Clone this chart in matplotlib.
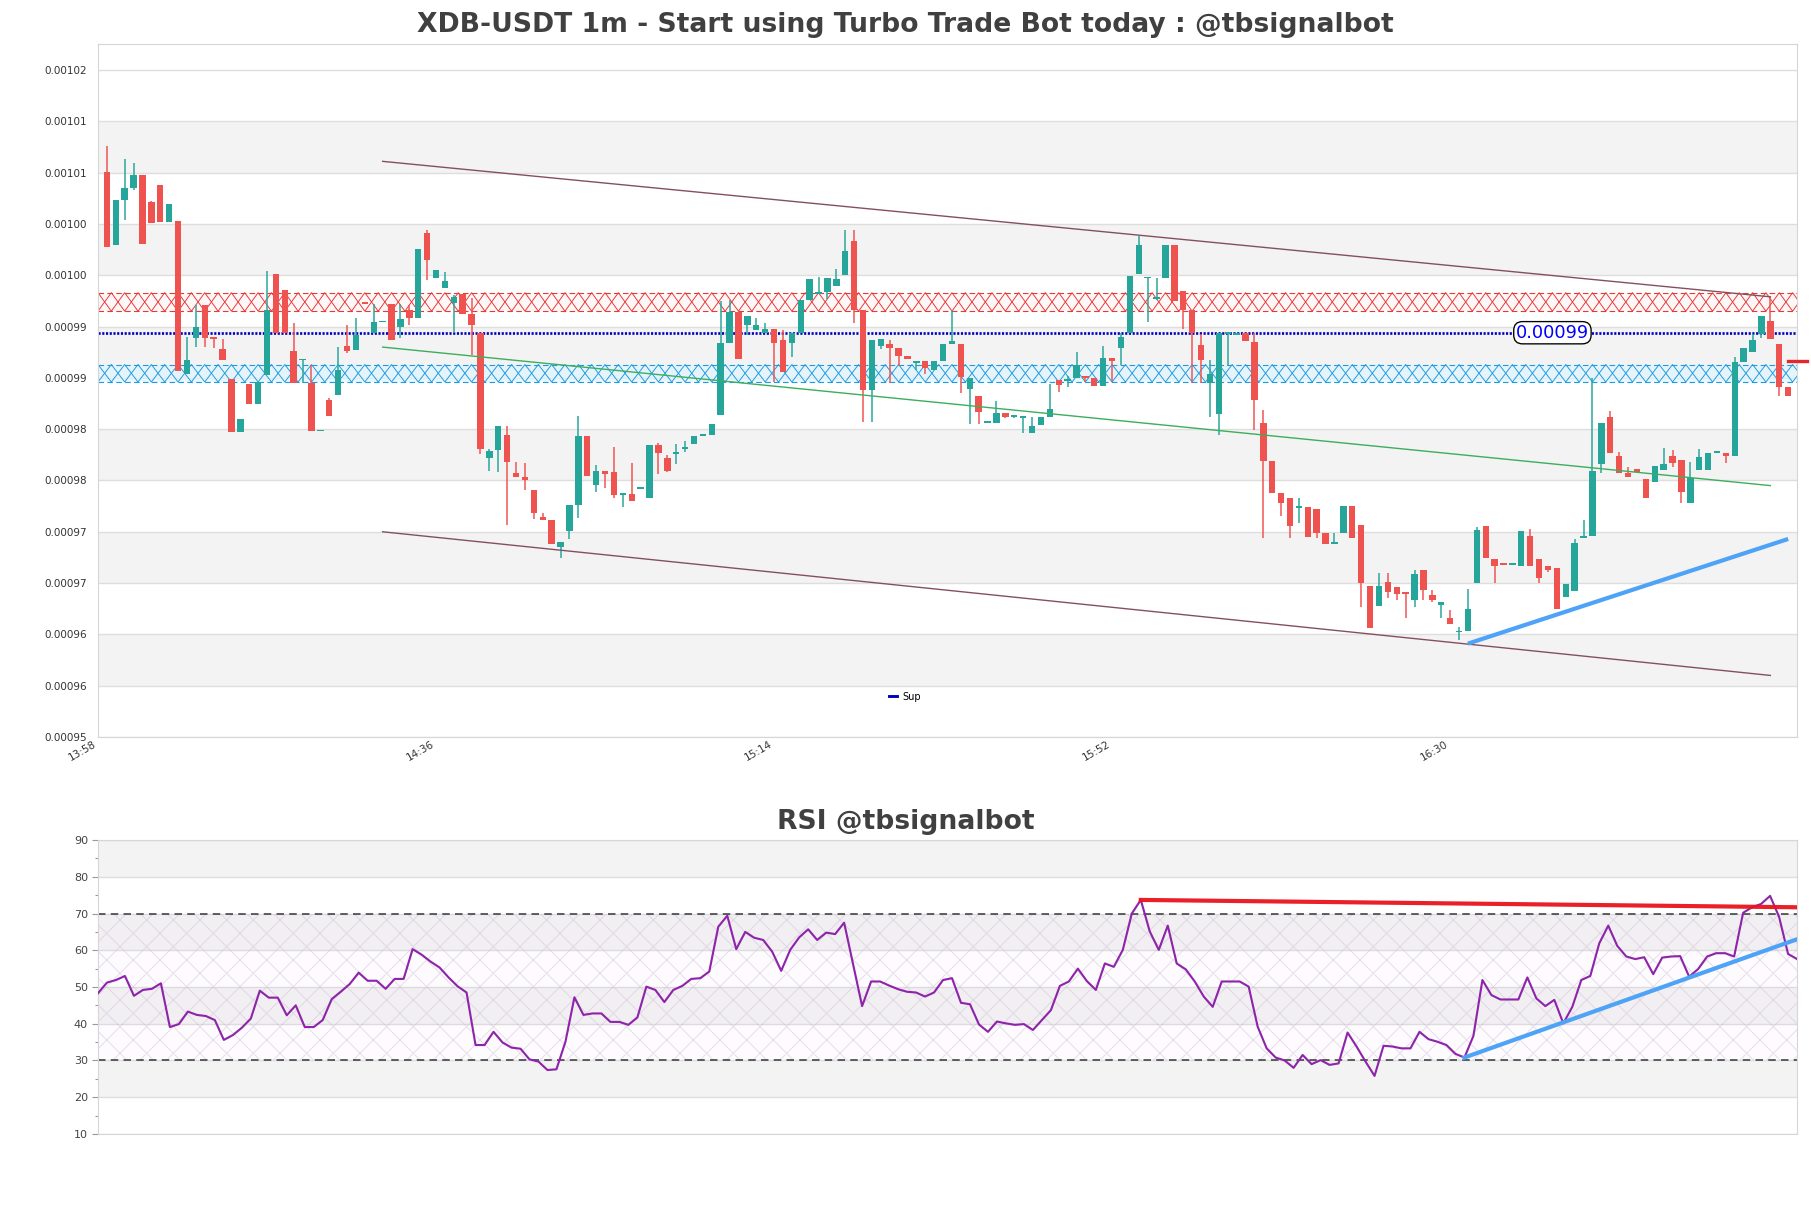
import numpy as np
import matplotlib
matplotlib.use('Agg')
import matplotlib.pyplot as plt

# prices are written in units of 1e-5 (99.0 -> 0.00099)
opens = [100.51, 99.79, 100.23, 100.35, 100.48, 100.21, 100.38, 100.02, 100.03, 98.54,
         98.89, 99.21, 98.89, 98.78, 98.49, 97.97, 98.44, 98.25, 98.53, 99.51,
         99.36, 98.76, 98.67, 98.45, 97.98, 98.28, 98.33, 98.81, 98.77, 99.23,
         98.94, 99.04, 99.22, 99.00, 99.16, 99.08, 99.91, 99.47, 99.38, 99.23,
         99.32, 99.12, 98.94, 97.72, 97.80, 97.94, 97.57, 97.53, 97.41, 97.14,
         97.11, 96.85, 97.01, 97.26, 97.93, 97.46, 97.59, 97.58, 97.36, 97.37,
         97.42, 97.33, 97.85, 97.72, 97.76, 97.81, 97.86, 97.93, 97.94, 98.14,
         98.84, 99.14, 99.02, 98.97, 98.94, 98.98, 98.87, 98.84, 98.94, 99.26,
         99.32, 99.34, 99.40, 99.50, 99.83, 99.16, 98.38, 98.81, 98.83, 98.79,
         98.71, 98.64, 98.66, 98.58, 98.66, 98.83, 98.83, 98.39, 98.32, 98.06,
         98.06, 98.16, 98.12, 98.11, 97.96, 98.04, 98.12, 98.48, 98.47, 98.50,
         98.51, 98.50, 98.42, 98.69, 98.79, 98.94, 99.51, 99.47, 99.27, 99.47,
         99.79, 99.35, 99.16, 98.82, 98.45, 98.15, 98.93, 98.92, 98.94, 98.85,
         98.06, 97.69, 97.38, 97.33, 97.23, 97.24, 97.22, 96.99, 96.88, 96.99,
         97.25, 97.07, 96.47, 96.28, 96.51, 96.46, 96.41, 96.34, 96.63, 96.38,
         96.29, 96.16, 96.02, 96.03, 96.50, 97.06, 96.73, 96.70, 96.68, 96.67,
         96.96, 96.73, 96.67, 96.65, 96.36, 96.42, 96.94, 96.96, 97.66, 98.12,
         97.74, 97.57, 97.61, 97.51, 97.49, 97.60, 97.74, 97.70, 97.28, 97.60,
         97.60, 97.77, 97.77, 97.74, 98.65, 98.75, 98.93, 99.05, 98.83, 98.41]
highs = [100.76, 100.23, 100.63, 100.59, 100.48, 100.22, 100.38, 100.19, 100.03, 98.90,
         99.21, 99.21, 98.89, 98.88, 98.49, 98.10, 98.44, 98.46, 99.54, 99.51,
         99.36, 99.03, 98.67, 98.63, 97.98, 98.30, 98.80, 99.02, 99.08, 99.23,
         99.22, 99.04, 99.22, 99.22, 99.21, 99.76, 99.94, 99.55, 99.53, 99.31,
         99.32, 99.28, 98.94, 97.81, 98.03, 98.03, 97.68, 97.67, 97.41, 97.18,
         97.11, 96.90, 97.26, 98.13, 97.93, 97.65, 97.59, 97.83, 97.38, 97.67,
         97.42, 97.85, 97.87, 97.75, 97.86, 97.88, 97.93, 97.95, 98.05, 99.25,
         99.26, 99.14, 99.10, 99.08, 99.03, 98.98, 98.97, 98.94, 99.26, 99.46,
         99.48, 99.47, 99.56, 99.94, 99.94, 99.16, 98.87, 98.88, 98.87, 98.79,
         98.71, 98.66, 98.66, 98.66, 98.83, 99.16, 98.83, 98.50, 98.32, 98.06,
         98.27, 98.16, 98.13, 98.12, 98.12, 98.12, 98.44, 98.48, 98.52, 98.75,
         98.51, 98.50, 98.81, 98.69, 98.94, 99.49, 99.88, 99.47, 99.47, 99.79,
         99.79, 99.35, 99.16, 98.93, 98.67, 98.94, 98.93, 98.94, 98.94, 98.94,
         98.19, 97.69, 97.38, 97.33, 97.33, 97.24, 97.22, 96.99, 96.99, 97.25,
         97.25, 97.07, 96.47, 96.60, 96.60, 96.46, 96.41, 96.63, 96.63, 96.43,
         96.32, 96.24, 96.07, 96.44, 97.05, 97.06, 96.73, 96.70, 96.68, 97.01,
         97.03, 96.73, 96.67, 96.65, 96.49, 96.93, 97.11, 98.50, 98.06, 98.18,
         97.78, 97.63, 97.61, 97.51, 97.64, 97.82, 97.80, 97.70, 97.68, 97.81,
         97.77, 97.77, 97.77, 98.70, 98.79, 98.93, 99.10, 99.29, 98.83, 98.41]
lows = [99.78, 99.79, 100.04, 100.33, 99.80, 100.01, 100.02, 100.02, 98.57, 98.54,
        98.80, 98.80, 98.79, 98.67, 97.97, 97.97, 98.25, 98.25, 98.53, 98.94,
        98.94, 98.45, 98.45, 97.98, 97.98, 98.13, 98.33, 98.74, 98.77, 99.22,
        98.94, 99.04, 98.87, 98.89, 99.02, 99.08, 99.45, 99.47, 99.38, 98.94,
        99.12, 98.72, 97.76, 97.59, 97.58, 97.07, 97.53, 97.41, 97.12, 97.11,
        96.88, 96.74, 96.93, 97.13, 97.54, 97.39, 97.43, 97.33, 97.24, 97.30,
        97.42, 97.33, 97.56, 97.58, 97.66, 97.78, 97.86, 97.93, 97.94, 98.14,
        98.84, 98.68, 98.92, 98.97, 98.94, 98.46, 98.56, 98.70, 98.94, 99.26,
        99.32, 99.27, 99.40, 99.50, 99.03, 98.07, 98.07, 98.78, 98.45, 98.62,
        98.68, 98.58, 98.54, 98.58, 98.66, 98.83, 98.35, 98.05, 98.05, 98.06,
        98.06, 98.11, 98.11, 97.96, 97.96, 98.04, 98.12, 98.36, 98.41, 98.50,
        98.46, 98.42, 98.42, 98.46, 98.63, 98.94, 99.51, 99.04, 99.26, 99.47,
        99.25, 98.98, 98.45, 98.45, 98.12, 97.94, 98.62, 98.92, 98.86, 97.99,
        96.94, 97.38, 97.15, 96.94, 97.09, 96.95, 96.94, 96.88, 96.88, 96.99,
        96.94, 96.27, 96.06, 96.28, 96.35, 96.34, 96.16, 96.27, 96.34, 96.32,
        96.16, 96.10, 95.95, 96.03, 96.50, 96.74, 96.50, 96.68, 96.68, 96.67,
        96.67, 96.50, 96.61, 96.25, 96.36, 96.42, 96.94, 96.96, 97.57, 97.77,
        97.57, 97.53, 97.58, 97.33, 97.49, 97.60, 97.63, 97.28, 97.28, 97.60,
        97.60, 97.77, 97.67, 97.74, 98.65, 98.75, 98.89, 98.88, 98.32, 98.32]
closes = [99.78, 100.23, 100.35, 100.48, 99.80, 100.01, 100.02, 100.19, 98.57, 98.67,
          99.00, 98.89, 98.88, 98.67, 97.97, 98.10, 98.25, 98.46, 99.16, 98.94,
          98.94, 98.45, 98.67, 97.98, 97.98, 98.13, 98.58, 98.76, 98.92, 99.22,
          99.04, 99.04, 98.87, 99.07, 99.08, 99.76, 99.65, 99.55, 99.44, 99.29,
          99.12, 99.02, 97.81, 97.79, 98.03, 97.68, 97.53, 97.50, 97.18, 97.11,
          96.88, 96.90, 97.26, 97.93, 97.54, 97.59, 97.56, 97.36, 97.38, 97.30,
          97.42, 97.85, 97.77, 97.59, 97.78, 97.83, 97.93, 97.95, 98.05, 98.84,
          99.14, 98.68, 99.10, 99.02, 98.98, 98.84, 98.56, 98.94, 99.26, 99.46,
          99.33, 99.47, 99.46, 99.74, 99.16, 98.38, 98.87, 98.88, 98.79, 98.71,
          98.68, 98.66, 98.60, 98.66, 98.83, 98.86, 98.51, 98.50, 98.17, 98.06,
          98.16, 98.12, 98.12, 98.12, 98.03, 98.12, 98.20, 98.43, 98.48, 98.63,
          98.50, 98.42, 98.69, 98.66, 98.90, 99.49, 99.79, 99.47, 99.27, 99.79,
          99.25, 99.16, 98.94, 98.67, 98.54, 98.94, 98.93, 98.93, 98.86, 98.28,
          97.69, 97.38, 97.28, 97.06, 97.25, 96.95, 96.99, 96.88, 96.90, 97.25,
          96.94, 96.50, 96.06, 96.47, 96.41, 96.39, 96.39, 96.59, 96.43, 96.34,
          96.32, 96.10, 96.03, 96.25, 97.02, 96.74, 96.67, 96.68, 96.68, 97.01,
          96.67, 96.55, 96.63, 96.25, 96.49, 96.89, 96.95, 97.59, 98.06, 97.77,
          97.57, 97.53, 97.58, 97.33, 97.64, 97.66, 97.67, 97.39, 97.52, 97.73,
          97.77, 97.77, 97.74, 98.65, 98.79, 98.87, 99.10, 98.88, 98.41, 98.32]

rsi = [48.3, 51.2, 51.9, 53.0, 47.6, 49.2, 49.5, 51.0, 39.1, 39.9,
       43.3, 42.4, 42.1, 41.0, 35.6, 36.9, 38.9, 41.4, 49.0, 47.1,
       47.1, 42.3, 45.0, 39.1, 39.1, 41.0, 46.7, 48.7, 50.8, 53.9,
       51.7, 51.7, 49.5, 52.2, 52.2, 60.3, 58.8, 56.9, 55.3, 52.6,
       50.2, 48.5, 34.2, 34.2, 37.8, 34.9, 33.5, 33.2, 30.3, 29.7,
       27.4, 27.6, 35.1, 47.2, 42.4, 42.8, 42.8, 40.5, 40.5, 39.7,
       41.7, 50.1, 49.2, 45.9, 49.2, 50.3, 52.2, 52.4, 54.2, 66.4,
       69.4, 60.3, 65.0, 63.4, 62.8, 59.6, 54.4, 60.1, 63.5, 65.7,
       62.8, 64.8, 64.4, 67.5, 56.2, 44.8, 51.5, 51.5, 50.4, 49.4,
       48.7, 48.5, 47.4, 48.5, 51.9, 52.4, 45.7, 45.3, 39.8, 37.8,
       40.6, 40.1, 39.7, 39.9, 38.3, 41.0, 43.7, 50.3, 51.5, 55.0,
       51.6, 49.2, 56.4, 55.5, 60.1, 70.0, 73.7, 65.1, 60.1, 66.7,
       56.4, 54.8, 51.5, 47.4, 44.6, 51.5, 51.5, 51.5, 50.1, 39.2,
       33.3, 30.8, 30.0, 28.0, 31.5, 29.0, 30.1, 28.8, 29.2, 37.6,
       33.8, 29.7, 25.8, 34.0, 33.8, 33.3, 33.3, 37.8, 35.8, 35.1,
       34.2, 31.8, 30.8, 36.7, 51.9, 47.8, 46.6, 46.6, 46.6, 52.6,
       46.9, 44.8, 46.5, 40.1, 44.6, 51.9, 53.0, 61.9, 66.7, 61.2,
       58.3, 57.6, 58.1, 53.5, 58.0, 58.3, 58.4, 52.8, 54.9, 58.3,
       59.2, 59.2, 58.3, 70.2, 71.7, 72.6, 74.8, 69.1, 59.0, 57.6]

time_ticks = [0, 38, 76, 114, 152]
time_labels = ['13:58', '14:36', '15:14', '15:52', '16:30']
price_ticks = [95.0, 95.5, 96.0, 96.5, 97.0, 97.5, 98.0, 98.5, 99.0, 99.5, 100.0, 100.5, 101.0, 101.5]
price_labels = ['0.00095', '0.00096', '0.00096', '0.00097', '0.00097', '0.00098', '0.00098',
                '0.00099', '0.00099', '0.00100', '0.00100', '0.00101', '0.00101', '0.00102']

resist_zone = (99.15, 99.33)
support_zone = (98.46, 98.63)
sup_level = 98.94
channel_x = [32, 188]
channel_top = [100.61, 99.29]
channel_bottom = [97.00, 95.60]
channel_mid = [98.80, 97.45]
trend_x = [154, 190]
trend_y = [95.91, 96.93]
last_x = [190, 192.1]
last_y = [98.66, 98.66]

rsi_res_x = [116, 189]
rsi_res_y = [73.7, 71.7]
rsi_sup_x = [152, 189]
rsi_sup_y = [30.8, 63.0]

S = 1e-5
GREEN = '#26a69a'
RED = '#ef5350'
BAND = '#f3f3f3'
GRID = '#dedede'
SPINE = '#d6d6d6'

plt.rcParams['hatch.linewidth'] = 0.8
plt.rcParams['axes.linewidth'] = 1.0

fig = plt.figure(figsize=(1811 / 80, 1208 / 80), dpi=80)
ax = fig.add_axes([0.0541, 0.3899, 0.9382, 0.5737])
ax2 = fig.add_axes([0.0541, 0.0613, 0.9382, 0.2433])

o = np.array(opens) * S
h = np.array(highs) * S
l = np.array(lows) * S
c = np.array(closes) * S
x = np.arange(1, len(o) + 1)
XMAX = 191


def cross_band(ax, lo, hi, color, face, step=1.5):
    # a row of X marks filling the zone, with dashed borders
    ax.axhspan(lo, hi, color=face, lw=0, zorder=1)
    xs = np.arange(0, XMAX + step, step)
    even = np.arange(len(xs)) % 2 == 0
    ax.plot(xs, np.where(even, hi, lo), color=color, lw=0.85, zorder=1.2)
    ax.plot(xs, np.where(even, lo, hi), color=color, lw=0.85, zorder=1.2)
    for yy in (lo, hi):
        ax.axhline(yy, color=color, lw=1.0, ls=(0, (5, 3)), zorder=1.2)


# alternating background bands
pt = np.array(price_ticks) * S
for k in range(1, len(pt) - 1, 2):
    ax.axhspan(pt[k], pt[k + 1], color=BAND, zorder=0, lw=0)
ax.grid(axis='y', color=GRID, lw=1.25, zorder=0.5)
ax.set_axisbelow(True)

# zones
cross_band(ax, resist_zone[0] * S, resist_zone[1] * S, '#e53935', (1, 0.95, 0.95, 0.6))
cross_band(ax, support_zone[0] * S, support_zone[1] * S, '#1e9be0', (0.88, 0.96, 1, 0.7))
ax.axhline(sup_level * S, color='#0000c0', ls=(0, (0.8, 0.6)), lw=2.4, zorder=2)
ax.plot([], [], color='#0000bb', lw=2.6, label='Sup')

# candles
up = c >= o
colors = np.where(up, GREEN, RED)
ax.vlines(x, l, h, colors=colors, lw=1.35, zorder=3)
body_lo = np.minimum(o, c)
body_h = np.maximum(np.abs(c - o), 0.015 * S)
ax.bar(x, body_h, bottom=body_lo, width=0.72, color=colors, lw=0, zorder=4)

# channel and trend lines
ax.plot(channel_x, np.array(channel_top) * S, color='#84505f', lw=1.25, zorder=5)
ax.plot(channel_x, np.array(channel_bottom) * S, color='#84505f', lw=1.25, zorder=5)
ax.plot(channel_x, np.array(channel_mid) * S, color='#3cae5c', lw=1.25, zorder=5)
ax.plot(trend_x, np.array(trend_y) * S, color='#4fa3f7', lw=3.75, zorder=5,
        solid_capstyle='butt')
ax.plot(last_x, np.array(last_y) * S, color='#e5262a', lw=3, zorder=6, clip_on=False)

ax.text(163.5, sup_level * S, '0.00099', color='#0000ff', fontsize=16,
        ha='center', va='center', zorder=7,
        bbox=dict(boxstyle='round,pad=0.12,rounding_size=0.5', fc='white', ec='black', lw=1.2))

ax.set_xlim(0, XMAX)
ax.set_ylim(95 * S, 101.754 * S)
ax.set_yticks(pt)
ax.set_yticklabels(price_labels)
ax.set_xticks(time_ticks)
ax.set_xticklabels(time_labels, rotation=30, ha='right')
ax.tick_params(axis='both', length=0, labelsize=9.4, labelcolor='#333333')
ax.tick_params(axis='y', pad=10)
ax.tick_params(axis='x', pad=2)
for s in ax.spines.values():
    s.set_color(SPINE)

leg = ax.legend(loc='center', bbox_to_anchor=(0.475, 0.058), frameon=False,
                fontsize=8.8, handlelength=0.8, handletextpad=0.6)

# RSI panel
xr = np.arange(len(rsi))
for lo, hi in [(20, 30), (40, 50), (60, 70), (80, 90)]:
    ax2.axhspan(lo, hi, color=BAND, zorder=0, lw=0)
ax2.axhspan(30, 70, facecolor=(0.8, 0.6, 0.85, 0.035), edgecolor=(0.8, 0.74, 0.84, 0.5),
            hatch='x', lw=0, zorder=0.6)
ax2.grid(axis='y', color=GRID, lw=1.25, zorder=0.5)
ax2.set_axisbelow(True)
ax2.axhline(70, color='#333333', lw=1.35, dashes=(5, 3.5), zorder=2)
ax2.axhline(30, color='#333333', lw=1.35, dashes=(5, 3.5), zorder=2)
ax2.plot(xr, rsi, color='#8e24aa', lw=1.9, zorder=3)
ax2.plot(rsi_res_x, rsi_res_y, color='#e8141c', lw=3.75, zorder=4, alpha=0.95)
ax2.plot(rsi_sup_x, rsi_sup_y, color='#4fa3f7', lw=3.75, zorder=4)

ax2.set_xlim(0, len(rsi) - 1)
ax2.set_ylim(10, 90)
ax2.set_yticks(range(10, 91, 10))
ax2.set_yticks(range(15, 90, 10), minor=True)
ax2.set_xticks([])
ax2.tick_params(axis='y', which='major', length=5, width=1, color='#999999', labelsize=10,
                labelcolor='#444444', pad=4)
ax2.tick_params(axis='y', which='minor', length=2.5, width=1, color='#999999')
for s in ax2.spines.values():
    s.set_color(SPINE)

fig.text(0.5, 1 - 25.5 / 1208, 'XDB-USDT 1m - Start using Turbo Trade Bot today : @tbsignalbot',
         ha='center', va='center', fontsize=24, fontweight='bold', color='#404040')
fig.text(0.5, 1 - 822 / 1208, 'RSI @tbsignalbot', ha='center', va='center',
         fontsize=24, fontweight='bold', color='#404040')

fig.savefig('out.png', dpi=80)
